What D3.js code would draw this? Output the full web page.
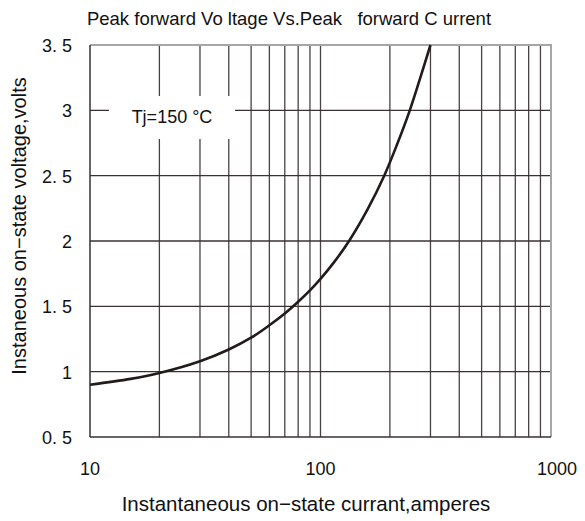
<!DOCTYPE html>
<html>
<head>
<meta charset="utf-8">
<script src="https://cdn.jsdelivr.net/npm/d3@7"></script>
<style>
  body { margin: 0; background: #fff; }
  svg text { font-family: "Liberation Sans", Arial, sans-serif; fill: #111; }
</style>
</head>
<body>
<div id="chart"></div>
<script>
// curve (current in A, voltage in V)
let currentA = [10, 15, 20, 30, 40, 50, 60, 70, 80, 90, 100, 115, 133, 160, 189, 215, 244, 270, 300];
let voltageV = [0.90, 0.945, 0.99, 1.08, 1.17, 1.26, 1.355, 1.445, 1.535, 1.622, 1.71, 1.842, 2.0, 2.242, 2.5, 2.74, 3.0, 3.24, 3.5];

let xTicks = [10, 100, 1000];
let yTicks = [0.5, 1, 1.5, 2, 2.5, 3, 3.5];
let yTickLabels = ["0. 5", "1", "1. 5", "2", "2. 5", "3", "3. 5"];
let xGrid = [20, 30, 40, 50, 60, 70, 80, 90, 100, 200, 300, 400, 500, 600, 700, 800, 900];

let width = 585, height = 521;
let margin = { top: 45, right: 34, bottom: 84, left: 90 };

let svg = d3.select("#chart").append("svg")
	.attr("width", width)
	.attr("height", height);

let x = d3.scaleLog()
	.domain([10, 1000])
	.range([margin.left, width - margin.right]);

let y = d3.scaleLinear()
	.domain([0.5, 3.5])
	.range([height - margin.bottom, margin.top]);

// grid
svg.selectAll(".vgrid")
	.data(xGrid)
	.enter()
	.append("line")
	.attr("class", "vgrid")
	.attr("x1", d => x(d)).attr("x2", d => x(d))
	.attr("y1", y(0.5)).attr("y2", y(3.5))
	.attr("stroke", "#4a4242")
	.attr("stroke-width", 1.3);

svg.selectAll(".hgrid")
	.data(yTicks.slice(1, -1))
	.enter()
	.append("line")
	.attr("class", "hgrid")
	.attr("x1", x(10)).attr("x2", x(1000))
	.attr("y1", d => y(d)).attr("y2", d => y(d))
	.attr("stroke", "#3a3232")
	.attr("stroke-width", 1.3);

// frame: top and right grey, left and bottom dark
svg.append("line")
	.attr("x1", x(10)).attr("x2", x(1000) + 1)
	.attr("y1", y(3.5)).attr("y2", y(3.5))
	.attr("stroke", "#a6a6a6").attr("stroke-width", 2);
svg.append("line")
	.attr("x1", x(1000)).attr("x2", x(1000))
	.attr("y1", y(3.5)).attr("y2", y(0.5))
	.attr("stroke", "#a6a6a6").attr("stroke-width", 2);
svg.append("line")
	.attr("x1", x(10)).attr("x2", x(10))
	.attr("y1", y(3.5)).attr("y2", y(0.5))
	.attr("stroke", "#3a3030").attr("stroke-width", 1.5);
svg.append("line")
	.attr("x1", x(10)).attr("x2", x(1000))
	.attr("y1", y(0.5)).attr("y2", y(0.5))
	.attr("stroke", "#3a3030").attr("stroke-width", 1.5);

// Tj label with white backing
let tj = svg.append("g");
tj.append("rect")
	.attr("x", 109).attr("y", 96)
	.attr("width", 126).attr("height", 43)
	.attr("fill", "#fff");
tj.append("text")
	.attr("x", 172).attr("y", 117)
	.attr("text-anchor", "middle")
	.attr("dominant-baseline", "central")
	.attr("font-size", 18)
	.style("white-space", "pre")
	.text("Tj=150 °C");

// curve
let pts = currentA.map((d, i) => [d, voltageV[i]]);
let line = d3.line()
	.x(d => x(d[0]))
	.y(d => y(d[1]))
	.curve(d3.curveCatmullRom.alpha(0.5));

svg.append("path")
	.datum(pts)
	.attr("d", line)
	.attr("fill", "none")
	.attr("stroke", "#231a1a")
	.attr("stroke-width", 2.6);

// tick labels
svg.selectAll(".ylab")
	.data(yTicks)
	.enter()
	.append("text")
	.attr("class", "ylab")
	.attr("x", 72)
	.attr("y", d => y(d) + 1)
	.attr("text-anchor", "end")
	.attr("dominant-baseline", "central")
	.attr("font-size", 18)
	.style("white-space", "pre")
	.text((d, i) => yTickLabels[i]);

svg.selectAll(".xlab")
	.data(xTicks)
	.enter()
	.append("text")
	.attr("class", "xlab")
	.attr("x", d => x(d) + (d == 1000 ? 6 : 0))
	.attr("y", 469)
	.attr("text-anchor", "middle")
	.attr("dominant-baseline", "central")
	.attr("font-size", 18)
	.text(d => d);

// titles
svg.append("text")
	.attr("x", 289).attr("y", 25)
	.attr("text-anchor", "middle")
	.attr("font-size", 18.5)
	.style("white-space", "pre")
	.text("Peak forward Vo ltage Vs.Peak   forward C urrent");

svg.append("text")
	.attr("x", 306).attr("y", 511)
	.attr("text-anchor", "middle")
	.attr("font-size", 20.5)
	.text("Instantaneous on\u2212state currant,amperes");

svg.append("text")
	.attr("transform", "translate(19,226) rotate(-90)")
	.attr("text-anchor", "middle")
	.attr("dominant-baseline", "central")
	.attr("font-size", 20)
	.text("Instaneous on\u2212state voltage,volts");
</script>
</body>
</html>
